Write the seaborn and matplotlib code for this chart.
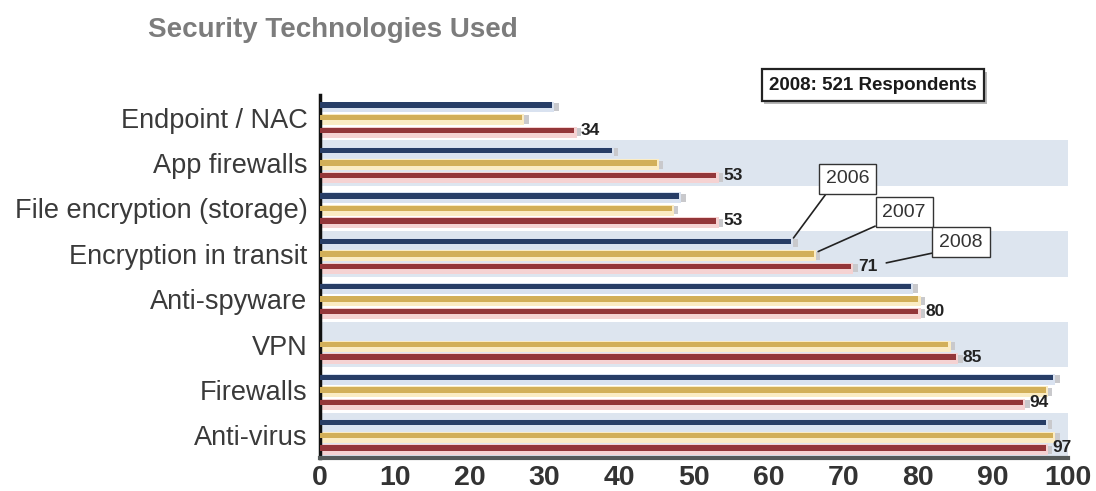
import matplotlib
matplotlib.use("Agg")
import matplotlib.pyplot as plt
import matplotlib.patheffects as pe
from matplotlib.patches import Rectangle
import numpy as np
import pandas as pd
import seaborn as sns

categories = ["Endpoint / NAC", "App firewalls", "File encryption (storage)",
              "Encryption in transit", "Anti-spyware", "VPN", "Firewalls", "Anti-virus"]
years = ["2006", "2007", "2008"]
values_2006 = [31, 39, 48, 63, 79, np.nan, 98, 97]
values_2007 = [27, 45, 47, 66, 80, 84, 97, 98]
values_2008 = [34, 53, 53, 71, 80, 85, 94, 97]
x_ticks = [0, 10, 20, 30, 40, 50, 60, 70, 80, 90, 100]

bar_colors = {"2006": "#1d3a70", "2007": "#e6b745", "2008": "#a3262a"}
halo_colors = {"2006": "#d9e2f0", "2007": "#fbecc4", "2008": "#f5d2d2"}

df = pd.DataFrame({
    "category": categories * 3,
    "year": [y for y in years for _ in categories],
    "value": values_2006 + values_2007 + values_2008,
})

sns.set_style("white")
plt.rcParams["font.family"] = ["Liberation Sans", "DejaVu Sans"]

fig = plt.figure(figsize=(10.96, 4.91), dpi=100)
ax = fig.add_axes([320 / 1096, 1 - 458 / 491, (1068 - 320) / 1096, (458 - 95) / 491])

# alternating row bands
for i in range(1, len(categories), 2):
    ax.axhspan(i - 0.5, i + 0.5, color="#dde5ef", zorder=0, lw=0)

sns.barplot(data=df, y="category", x="value", hue="year", orient="h",
            order=categories, hue_order=years, palette=bar_colors,
            width=0.83, dodge=True, legend=False, ax=ax, zorder=3)

# thin bars with a pale glow and a soft shadow at the tip
bar_h = 0.12
red_centers = {}
for container, year in zip(ax.containers, years):
    for patch, cat in zip(container.patches, categories):
        w = patch.get_width()
        if not np.isfinite(w) or w == 0:
            patch.set_visible(False)
            continue
        cy = patch.get_y() + patch.get_height() / 2
        patch.set_y(cy - bar_h / 2)
        patch.set_height(bar_h)
        patch.set_edgecolor("none")
        ax.add_patch(Rectangle((0, cy - bar_h / 2 - 0.02), w + 0.3, bar_h + 0.12,
                               facecolor=halo_colors[year], edgecolor="none", zorder=2))
        ax.add_patch(Rectangle((w, cy - bar_h / 2 + 0.01), 0.9, bar_h + 0.06,
                               facecolor="#c9c9cc", edgecolor="none", zorder=1.9))
        if year == "2008":
            red_centers[cat] = (w, cy)

# 2008 value labels
for cat, v in zip(categories, values_2008):
    w, cy = red_centers[cat]
    ax.text(v + 0.9, cy, f"{v:g}", ha="left", va="center", fontsize=12.5,
            fontweight="bold", color="#222222", zorder=5)

ax.set_xlim(0, 100)
ax.set_ylim(len(categories) - 0.5, -0.5)
ax.set_xticks(x_ticks)
ax.set_xticklabels([str(t) for t in x_ticks], fontsize=20.5, fontweight="bold", color="#333333")
ax.set_yticks(range(len(categories)))
ax.set_yticklabels(categories, fontsize=19.5, color="#3a3a3a")
ax.tick_params(axis="both", length=0)
ax.tick_params(axis="x", pad=5)
ax.tick_params(axis="y", pad=9)
ax.set_xlabel("")
ax.set_ylabel("")
ax.grid(False)
for side in ["top", "right"]:
    ax.spines[side].set_visible(False)
ax.spines["left"].set_color("#111111")
ax.spines["left"].set_linewidth(2.5)
ax.spines["bottom"].set_color("#555a5a")
ax.spines["bottom"].set_linewidth(3)
ax.set_facecolor("white")

# year callouts on the "Encryption in transit" group
callouts = [("2006", (63.3, 2.65), (70.5, 1.35)),
            ("2007", (66.6, 2.95), (78.1, 2.08)),
            ("2008", (75.7, 3.2), (85.7, 2.74))]
for label, xy, xytext in callouts:
    ax.annotate(label, xy=xy, xytext=xytext, textcoords="data",
                ha="center", va="center", fontsize=14, color="#333333", zorder=6,
                bbox=dict(boxstyle="square,pad=0.35", fc="white", ec="#333333", lw=1),
                arrowprops=dict(arrowstyle="-", color="#222222", lw=1.2,
                                relpos=(0.12, 0.0), shrinkA=0, shrinkB=0))

# respondents note
note = fig.text(873 / 1096, 1 - 85 / 491, "2008: 521 Respondents", ha="center", va="center",
                fontsize=13.5, fontweight="bold", color="#1a1a1a",
                bbox=dict(boxstyle="square,pad=0.4", fc="white", ec="#222222", lw=1.6))
note.get_bbox_patch().set_path_effects([
    pe.SimplePatchShadow(offset=(2, -2), shadow_rgbFace="#888888", alpha=0.6), pe.Normal()])

fig.text(148 / 1096, 1 - 30 / 491, "Security Technologies Used", ha="left", va="center",
         fontsize=20, fontweight="bold", color="#7c7c7c")

fig.savefig("out.png", dpi=100, facecolor="white")
